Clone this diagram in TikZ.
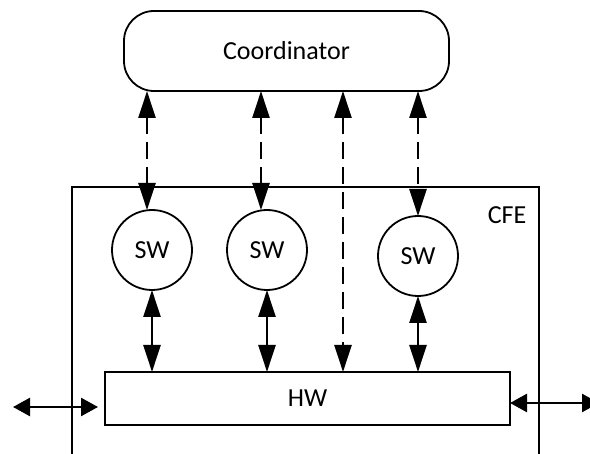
\documentclass[tikz,border=0pt]{standalone}
\usepackage{fontspec}
\setmainfont{Carlito}
\usetikzlibrary{arrows.meta,calc}
\tikzset{
  vtip/.tip={Triangle[length=27pt,width=17pt]},
  htip/.tip={Triangle[length=17pt,width=18pt]}
}
\begin{document}
\begin{tikzpicture}[x=1pt,y=-1pt,
  font=\fontsize{26}{30}\selectfont,
  unitbox/.style={draw,line width=1.8pt,fill=white,inner sep=0pt,outer sep=0pt},
  dasharr/.style={line width=2.5pt,dash pattern=on 17pt off 8pt,vtip-vtip},
  solidarr/.style={line width=2.5pt,vtip-vtip},
  sidearr/.style={line width=2.5pt,htip-htip}]
\useasboundingbox (0,0) rectangle (590,454);

% controller frame, open at the bottom
\node[draw,line width=1.8pt,inner sep=0pt,outer sep=0pt,anchor=north west,
      minimum width=467pt,minimum height=340pt] (cfe) at (72,187) {};
\node (cfelabel) at (507,215) {CFE};

% coordinator
\node[unitbox,rounded corners=30pt,minimum width=325pt,minimum height=80pt]
  (coord) at (286.5,51) {Coordinator};

% software instances
\node[unitbox,circle,minimum size=80pt] (sw1) at (152,250) {SW};
\node[unitbox,circle,minimum size=80pt] (sw2) at (267,250) {SW};
\node[unitbox,circle,minimum size=80pt] (sw3) at (418,256) {SW};

% hardware
\node[unitbox,minimum width=405pt,minimum height=53pt] (hw) at (307.5,398.5) {HW};

% coordinator links
\coordinate (a1) at ($(sw1.north)+(-5,0)$);
\coordinate (a2) at ($(sw2.north)+(-6,0)$);
\coordinate (a3) at (343,0);
\draw[dasharr] (a1 |- coord.south) -- (a1);
\draw[dasharr] (a2 |- coord.south) -- (a2);
\draw[dasharr] (a3 |- coord.south) -- (a3 |- hw.north);
\draw[dasharr] (sw3.north |- coord.south) -- (sw3.north);

% software to hardware
\draw[solidarr] (sw1.south) -- (sw1.south |- hw.north);
\draw[solidarr] (sw2.south) -- (sw2.south |- hw.north);
\draw[solidarr] (sw3.south) -- (sw3.south |- hw.north);

% external ports
\coordinate (lend) at (13,407);
\coordinate (rend) at (599,403);
\draw[sidearr] (lend) -- ($(lend -| hw.west)+(-7,0)$);
\draw[sidearr] (hw.east |- rend) -- (rend);
\end{tikzpicture}
\end{document}
